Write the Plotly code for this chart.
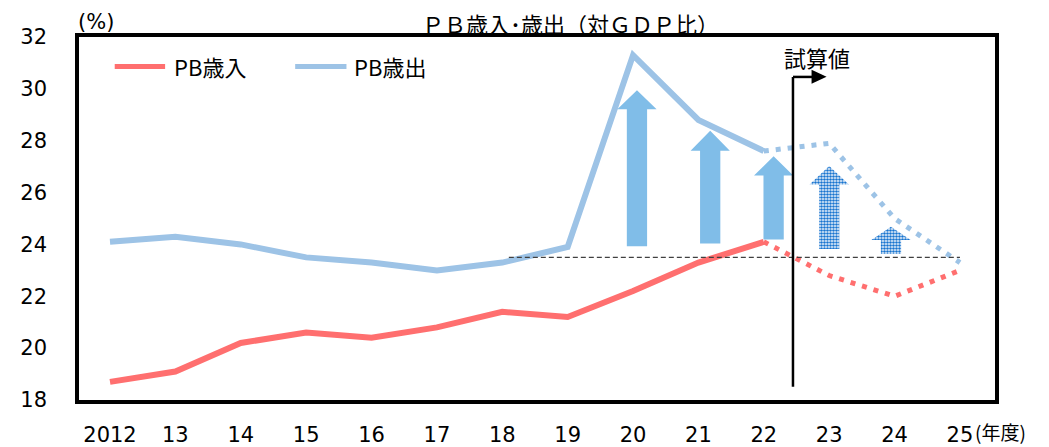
import plotly.graph_objects as go

# ---------------- data ----------------
years = ["2012", "13", "14", "15", "16", "17", "18", "19", "20", "21", "22", "23", "24", "25"]
revenue = [18.7, 19.1, 20.2, 20.6, 20.4, 20.8, 21.4, 21.2, 22.2, 23.3, 24.1]          # PB歳入 (actual)
expenditure = [24.1, 24.3, 24.0, 23.5, 23.3, 23.0, 23.3, 23.9, 31.3, 28.8, 27.6]    # PB歳出 (actual)
revenue_est = [24.1, 22.8, 22.0, 23.0]       # 試算値 2022-2025
expenditure_est = [27.6, 27.9, 25.0, 23.3]   # 試算値 2022-2025
baseline_value = 23.5

# gap arrows (position on category axis, base value, tip value)
arrow_pos = [8.06, 9.18, 10.15, 11.0, 11.945]
arrow_base = [23.93, 24.04, 24.19, 23.82, 23.63]
arrow_tip = [29.95, 28.38, 27.40, 27.02, 24.68]
arrow_estimate = [False, False, False, True, True]

# ---------------- style ----------------
RED = "#FF6F6F"
BLUE = "#9DC3E6"
ARROW = "#80BDE8"
ARROW_PAT = "#1874CF"
JP = "Noto Sans CJK JP"
NUM = "DejaVu Sans"
head_h = [0.74, 0.77, 0.74, 0.71, 0.51]
head_hw = 0.30
shaft_hw = 0.155

xi = list(range(len(years)))
n_act = len(revenue)
est_x = xi[n_act - 1:]

fig = go.Figure()

fig.add_trace(go.Scatter(x=xi[:n_act], y=expenditure, mode="lines",
                         line=dict(color=BLUE, width=6), showlegend=False, hoverinfo="skip"))
fig.add_trace(go.Scatter(x=est_x, y=expenditure_est, mode="lines",
                         line=dict(color=BLUE, width=5, dash="5px,7px"), showlegend=False))
fig.add_trace(go.Scatter(x=xi[:n_act], y=revenue, mode="lines",
                         line=dict(color=RED, width=6), showlegend=False))
fig.add_trace(go.Scatter(x=est_x, y=revenue_est, mode="lines",
                         line=dict(color=RED, width=5, dash="5px,7px"), showlegend=False))

# baseline dashed line
fig.add_trace(go.Scatter(x=[6.1, xi[-1]], y=[baseline_value, baseline_value], mode="lines",
                         line=dict(color="#404040", width=1.2, dash="5px,3px"), showlegend=False))

# arrows
for c, b, t, est, hh in zip(arrow_pos, arrow_base, arrow_tip, arrow_estimate, head_h):
    px = [c - shaft_hw, c - shaft_hw, c - head_hw, c, c + head_hw, c + shaft_hw, c + shaft_hw, c - shaft_hw]
    py = [b, t - hh, t - hh, t, t - hh, t - hh, b, b]
    kw = dict(x=px, y=py, mode="lines", fill="toself", line=dict(width=0),
              showlegend=False, hoverinfo="skip")
    if est:
        kw["fillcolor"] = "white"
        kw["fillpattern"] = dict(shape=".", fgcolor=ARROW_PAT, bgcolor="white",
                                 fgopacity=1, size=3, solidity=0.6)
    else:
        kw["fillcolor"] = ARROW
    fig.add_trace(go.Scatter(**kw))

shapes = []
# 試算値 marker
vx = 10.446
shapes.append(dict(type="line", xref="x", yref="y", x0=vx, x1=vx, y0=18.51, y1=30.46,
                   line=dict(color="black", width=2.5)))
shapes.append(dict(type="line", xref="x", yref="y", x0=vx, x1=10.74, y0=30.46, y1=30.46,
                   line=dict(color="black", width=2.5)))
shapes.append(dict(type="path", xref="x", yref="y",
                   path="M 10.73 30.74 L 10.96 30.47 L 10.73 30.20 Z",
                   fillcolor="black", line=dict(width=0)))

# custom legend
shapes.append(dict(type="line", xref="paper", yref="paper", x0=0.039, x1=0.094, y0=0.919, y1=0.919,
                   line=dict(color=RED, width=5)))
shapes.append(dict(type="line", xref="paper", yref="paper", x0=0.236, x1=0.292, y0=0.919, y1=0.919,
                   line=dict(color=BLUE, width=5)))

annotations = [
    dict(text="PB歳入", xref="paper", yref="paper", x=0.1014, y=0.919, xanchor="left", yanchor="middle",
         showarrow=False, font=dict(family=JP, size=22, color="black")),
    dict(text="PB歳出", xref="paper", yref="paper", x=0.2977, y=0.919, xanchor="left", yanchor="middle",
         showarrow=False, font=dict(family=JP, size=22, color="black")),
    dict(text="ＰＢ歳入･歳出（対ＧＤＰ比）", xref="paper", yref="paper", x=0.537, y=1.0377,
         xanchor="center", yanchor="middle", showarrow=False,
         font=dict(family=JP, size=22, color="black")),
    dict(text="(%)", xref="paper", yref="paper", x=0.0186, y=1.041, xanchor="center", yanchor="middle",
         showarrow=False, font=dict(family=NUM, size=21, color="black")),
    dict(text="試算値", xref="x", yref="y", x=10.81, y=31.23, xanchor="center", yanchor="middle",
         showarrow=False, font=dict(family=JP, size=22, color="black")),
    dict(text="(年度)", xref="x", yref="paper", x=xi[-1], y=-0.088, xanchor="left", yanchor="middle",
         xshift=13, showarrow=False, font=dict(family=JP, size=19, color="black")),
]

# the page body adds an 8px margin, so the figure is 8px smaller and margins shifted
fig.update_layout(
    width=1041, height=439,
    margin=dict(l=71, r=54, t=29, b=47),
    paper_bgcolor="white", plot_bgcolor="white",
    shapes=shapes, annotations=annotations,
    showlegend=False,
    xaxis=dict(range=[-0.474, 13.536], tickmode="array", tickvals=xi, ticktext=years,
               showgrid=False, zeroline=False, showline=True, mirror=True, automargin=False,
               linecolor="black", linewidth=3.5, ticks="",
               tickfont=dict(family=NUM, size=21, color="black"), ticklabelstandoff=13),
    yaxis=dict(range=[18, 32], tickmode="array", tickvals=[18, 20, 22, 24, 26, 28, 30, 32],
               showgrid=False, zeroline=False, showline=True, mirror=True, automargin=False,
               linecolor="black", linewidth=3.5, ticks="",
               tickfont=dict(family=NUM, size=21, color="black"), ticklabelstandoff=24),
)

fig.write_html("out.html")
